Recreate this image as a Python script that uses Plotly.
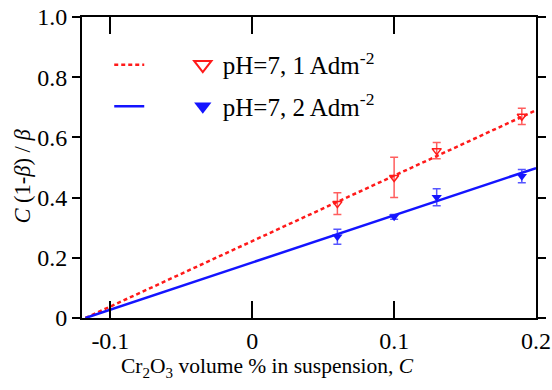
import plotly.graph_objects as go

# ---- data ----
conc = [0.06, 0.10, 0.13, 0.19]
y_1A = [0.38, 0.467, 0.556, 0.67]
err_1A = [0.036, 0.067, 0.027, 0.027]
y_2A = [0.27, 0.336, 0.401, 0.471]
err_2A = [0.025, 0.008, 0.028, 0.022]

fit_x = [-0.1176, 0.2]
fit_1A = [0.0, 0.69]
fit_2A = [0.0, 0.498]

name_1A = "pH=7, 1 Adm<sup>-2</sup>"
name_2A = "pH=7, 2 Adm<sup>-2</sup>"

x_tickvals = [-0.1, 0, 0.1, 0.2]
x_ticktext = ["-0.1", "0", "0.1", "0.2"]
y_tickvals = [0, 0.2, 0.4, 0.6, 0.8, 1.0]
y_ticktext = ["0", "0.2", "0.4", "0.6", "0.8", "1.0"]
x_title = "Cr<sub>2</sub>O<sub>3</sub> volume % in suspension, <i>C</i>"
y_title = "<i>C</i> (1-<i>β</i>) / <i>β</i>"

RED = "#ff1a1a"
BLUE = "#1414ff"
FONT = "Liberation Serif"

fig = go.Figure()

fig.add_trace(go.Scatter(x=fit_x, y=fit_1A, mode="lines",
                         line=dict(color=RED, width=2.5, dash="4px,3px"),
                         name=" ", legend="legend", legendgroup="a", hoverinfo="skip"))
fig.add_trace(go.Scatter(x=fit_x, y=fit_2A, mode="lines",
                         line=dict(color=BLUE, width=2.5),
                         name=" ", legend="legend", legendgroup="b", hoverinfo="skip"))

fig.add_trace(go.Scatter(x=conc, y=y_1A, mode="markers",
                         marker=dict(symbol="triangle-down-open", size=8,
                                     color=RED, line=dict(width=1.5, color=RED)),
                         error_y=dict(type="data", array=err_1A, color="rgba(255,40,40,0.75)",
                                      thickness=1.5, width=4),
                         showlegend=False))
fig.add_trace(go.Scatter(x=conc, y=y_2A, mode="markers",
                         marker=dict(symbol="triangle-down", size=9, color=BLUE),
                         error_y=dict(type="data", array=err_2A, color="rgba(30,30,255,0.75)",
                                      thickness=1.5, width=4),
                         showlegend=False))

fig.add_trace(go.Scatter(x=[None], y=[None], mode="markers",
                         marker=dict(symbol="triangle-down-open", size=15,
                                     color=RED, line=dict(width=2, color=RED)),
                         name=name_1A, legend="legend2", legendgroup="c"))
fig.add_trace(go.Scatter(x=[None], y=[None], mode="markers",
                         marker=dict(symbol="triangle-down", size=15, color=BLUE),
                         name=name_2A, legend="legend2", legendgroup="d"))

legend_common = dict(font=dict(family=FONT, size=25, color="black"),
                     bgcolor="rgba(0,0,0,0)", tracegroupgap=6,
                     traceorder="grouped", yanchor="top", y=0.917)

fig.update_layout(
    width=552, height=390,
    margin=dict(l=82, r=16, t=17, b=72),
    paper_bgcolor="white", plot_bgcolor="white",
    font=dict(family=FONT, size=24, color="black"),
    legend=dict(x=0.06, xanchor="left", **legend_common),
    legend2=dict(x=0.222, xanchor="left", **legend_common),
    xaxis=dict(range=[-0.12, 0.2], tickvals=x_tickvals, ticktext=x_ticktext,
               ticks="inside", ticklen=17, tickwidth=2, tickcolor="black",
               showline=True, linewidth=2, linecolor="black", mirror="allticks",
               showgrid=False, zeroline=False, automargin=False),
    yaxis=dict(range=[0, 1], tickvals=y_tickvals, ticktext=y_ticktext,
               ticks="outside", ticklen=8, tickwidth=2, tickcolor="black",
               showline=True, linewidth=2, linecolor="black", mirror="ticks",
               showgrid=False, zeroline=False, automargin=False),
    annotations=[
        dict(text=x_title, xref="paper", yref="paper", x=0.409, y=-0.163,
             xanchor="center", yanchor="middle", showarrow=False,
             font=dict(family=FONT, size=21.5, color="black")),
        dict(text=y_title, xref="paper", yref="paper", x=-0.13, y=0.473,
             xanchor="center", yanchor="middle", textangle=-90, showarrow=False,
             font=dict(family=FONT, size=22.5, color="black")),
    ],
)

fig.write_html("out.html", config={"displayModeBar": False},
               post_script="document.body.style.margin='0';")
